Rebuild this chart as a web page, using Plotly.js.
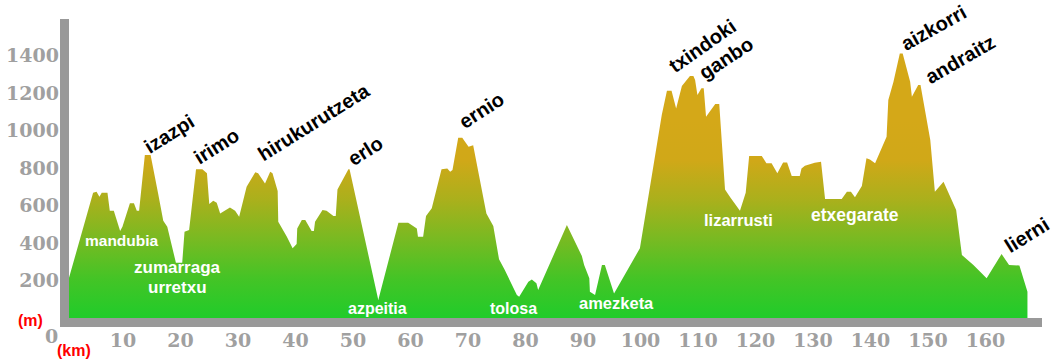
<!DOCTYPE html>
<html>
<head>
<meta charset="utf-8">
<script src="https://cdn.plot.ly/plotly-3.0.1.min.js"></script>
<style>
  html, body { margin: 0; padding: 0; background: #ffffff; }
  #chart { width: 1062px; height: 359px; }
</style>
</head>
<body>
<div id="chart"></div>
<script>
// Distance along the route (km)
var km = [0.6, 4.8, 5.4, 5.9, 6.3, 7.3, 7.7, 8.4, 9.5, 9.9, 11.2, 11.9, 12.4, 12.8, 13.8, 14.8,
  16.1, 17.0, 17.7, 19.2, 20.3, 20.7, 21.5, 22.7, 23.8, 24.6, 25.0, 25.7, 26.3, 26.9, 28.6, 29.5,
  30.2, 31.5, 33.0, 33.5, 34.7, 35.6, 36.0, 36.9, 37.0, 38.5, 39.5, 40.2, 40.3, 41.1, 41.7, 42.8,
  43.2, 43.4, 44.7, 45.4, 46.6, 47.0, 47.3, 49.2, 49.4, 50.6, 54.4, 57.9, 59.6, 61.1, 61.3, 62.2,
  62.7, 63.7, 65.4, 66.4, 66.9, 67.3, 68.3, 69.0, 70.1, 70.9, 73.2, 74.4, 75.4, 76.4, 78.5, 78.9,
  80.5, 81.1, 81.9, 82.2, 87.2, 89.8, 90.2, 91.1, 91.2, 92.1, 93.3, 93.8, 95.4, 99.9, 101.9, 103.7,
  104.6, 105.4, 106.2, 107.2, 108.6, 109.2, 109.5, 109.9, 110.6, 111.0, 111.4, 113.0, 113.7, 114.7,
  115.6, 117.3, 118.3, 118.9, 121.1, 121.9, 122.8, 123.8, 124.8, 125.5, 126.3, 127.7, 128.0, 128.6,
  130.3, 131.4, 132.1, 135.0, 135.9, 136.6, 137.3, 138.5, 139.3, 139.9, 140.8, 142.8, 143.1, 144.0,
  145.1, 145.6, 146.9, 147.2, 148.3, 148.7, 150.4, 151.2, 152.7, 154.9, 155.9, 157.9, 160.2, 162.8,
  164.1, 165.9, 167.3];
// Elevation (m)
var elev = [213, 668, 674, 647, 668, 668, 572, 572, 464, 487, 612, 612, 572, 572, 869, 869,
  665, 519, 487, 295, 295, 460, 469, 793, 793, 772, 608, 626, 615, 558, 590, 572,
  540, 700, 777, 772, 718, 780, 772, 677, 514, 434, 372, 395, 478, 523, 523, 464,
  464, 514, 576, 572, 544, 544, 686, 793, 793, 629, 96, 508, 508, 478, 434, 434,
  544, 585, 793, 798, 780, 790, 962, 962, 914, 922, 558, 491, 313, 256, 123, 114,
  194, 206, 185, 149, 496, 331, 283, 212, 140, 123, 283, 283, 131, 372, 736, 1083,
  1212, 1212, 1118, 1237, 1291, 1291, 1269, 1189, 1225, 1225, 1074, 1141, 1141, 686,
  644, 572, 668, 864, 864, 825, 825, 772, 830, 830, 757, 757, 798, 812,
  828, 834, 635, 635, 674, 674, 644, 704, 852, 846, 825, 967, 1163, 1260,
  1411, 1411, 1260, 1180, 1243, 1243, 949, 674, 727, 576, 336, 283, 212, 341,
  283, 280, 140];

var xTicks = [10, 20, 30, 40, 50, 60, 70, 80, 90, 100, 110, 120, 130, 140, 150, 160];
var yTicks = [200, 400, 600, 800, 1000, 1200, 1400];

// Peak names (black, rotated) and place names (white)
var peakNames = ["izazpi", "irimo", "hirukurutzeta", "erlo", "ernio", "txindoki", "ganbo", "aizkorri", "andraitz", "lierni"];
var placeNames = ["mandubia", "zumarraga", "urretxu", "azpeitia", "tolosa", "amezketa", "lizarrusti", "etxegarate"];

// Layout placement for the labels (km, m) — presentation only
var peakPos = [[18.0, 981], [26.3, 917], [43.2, 1045], [52.1, 891], [72.4, 1109],
  [110.7, 1451], [114.9, 1387], [150.9, 1548], [155.7, 1379], [167.2, 443]];
var peakAngle = [-32, -32, -32, -32, -33, -35, -33, -29, -30, -32];
var placePos = [[9.8, 411], [19.4, 267], [19.4, 165], [54.3, 53], [78.0, 53], [95.9, 80], [117.0, 523], [137.3, 549]];
var placeSize = [15.5, 17, 17, 16, 16, 16.5, 16.5, 17.5];

var annotations = [];
peakNames.forEach(function (n, i) {
  annotations.push({
    x: peakPos[i][0], y: peakPos[i][1], xref: 'x', yref: 'y',
    text: '<b>' + n + '</b>', showarrow: false, textangle: peakAngle[i],
    xanchor: 'center', yanchor: 'middle',
    font: { family: 'Liberation Sans, Arial, sans-serif', size: 20, color: '#000000' }
  });
});
placeNames.forEach(function (n, i) {
  annotations.push({
    x: placePos[i][0], y: placePos[i][1], xref: 'x', yref: 'y',
    text: '<b>' + n + '</b>', showarrow: false,
    xanchor: 'center', yanchor: 'middle',
    font: { family: 'Liberation Sans, Arial, sans-serif', size: placeSize[i], color: '#ffffff' }
  });
});
// axis unit labels
annotations.push({ xref: 'paper', yref: 'paper', x: -0.0305, y: 0.0227, text: '<b>(m)</b>', showarrow: false,
  xanchor: 'center', yanchor: 'middle', font: { family: 'Liberation Sans, Arial, sans-serif', size: 16, color: '#ff0000' } });
annotations.push({ xref: 'paper', yref: 'paper', x: 0.01426, y: -0.0747, text: '<b>(km)</b>', showarrow: false,
  xanchor: 'center', yanchor: 'middle', font: { family: 'Liberation Sans, Arial, sans-serif', size: 16, color: '#ff0000' } });
annotations.push({ xref: 'paper', yref: 'paper', x: -0.00916, y: -0.0292, text: '<b>0</b>', showarrow: false,
  xanchor: 'center', yanchor: 'middle', font: { family: 'DejaVu Serif, serif', size: 19, color: '#a0a0a0' } });

var trace = {
  type: 'scatter', mode: 'lines', x: km, y: elev,
  line: { width: 0, color: 'rgba(0,0,0,0)' },
  fill: 'tozeroy',
  fillgradient: {
    type: 'vertical', start: 0, stop: 1050,
    colorscale: [[0, '#20cc2a'], [0.2, '#44c426'], [0.4, '#78ba22'], [0.6, '#aab01c'], [0.8, '#d0a818'], [1, '#d4a818']]
  },
  hoverinfo: 'skip'
};

var tickFont = { family: 'DejaVu Serif, serif', size: 19, color: '#a0a0a0' };
function boldTicks(vals) { return vals.map(function (v) { return '<b>' + v + '</b>'; }); }

var layout = {
  width: 1062, height: 359,
  margin: { l: 60, r: 20, t: 19, b: 32, pad: 0 },
  paper_bgcolor: '#ffffff', plot_bgcolor: '#ffffff',
  showlegend: false,
  xaxis: {
    range: [-0.957, 169.83], showgrid: false, zeroline: false, showline: false,
    tickvals: xTicks, ticktext: boldTicks(xTicks), ticks: '', tickfont: tickFont, fixedrange: true
  },
  yaxis: {
    range: [-48, 1594.7], showgrid: false, zeroline: false, showline: false,
    tickvals: yTicks, ticktext: boldTicks(yTicks), ticks: '', tickfont: tickFont, fixedrange: true
  },
  shapes: [
    { type: 'rect', xref: 'paper', yref: 'paper', x0: 0, x1: 9 / 982, y0: 0, y1: 1,
      fillcolor: '#999999', line: { width: 0 }, layer: 'above' },
    { type: 'rect', xref: 'paper', yref: 'paper', x0: 0, x1: 1, y0: 0, y1: 9 / 308,
      fillcolor: '#999999', line: { width: 0 }, layer: 'above' }
  ],
  annotations: annotations
};

Plotly.newPlot('chart', [trace], layout, { displayModeBar: false, staticPlot: true });
</script>
</body>
</html>
